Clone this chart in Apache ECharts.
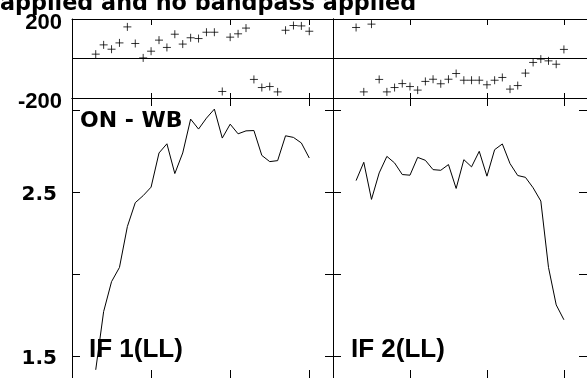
<!DOCTYPE html>
<html><head><meta charset="utf-8">
<script src="https://cdn.jsdelivr.net/npm/echarts@6/dist/echarts.min.js"></script>
<style>html,body{margin:0;padding:0;background:#fff;overflow:hidden}#c{width:587px;height:378px}</style>
</head><body><div id="c"></div>
<script>
// ---- data ----
const channels = [3,4,5,6,7,8,9,10,11,12,13,14,15,16,17,18,19,20,21,22,23,24,25,26,27,28,29,30];
const phaseIF1 = [22,69,47,79,160,76,3,37,93,56,123,73,105,101,133,133,-167,108,125,154,-106,-147,-142,-169,143,167,165,138];
const phaseIF2 = [157,-169,174,-106,-169,-147,-127,-142,-160,-116,-105,-128,-105,-76,-110,-110,-110,-133,-110,-96,-155,-137,-74,-20,-3,-12,-29,46];
const ampIF1 = [1.415,1.771,1.954,2.041,2.291,2.437,2.48,2.532,2.741,2.797,2.615,2.741,2.948,2.887,2.954,3.009,2.832,2.917,2.858,2.876,2.878,2.726,2.688,2.694,2.846,2.836,2.802,2.710];
const ampIF2 = [2.572,2.684,2.457,2.619,2.720,2.680,2.609,2.605,2.714,2.696,2.639,2.635,2.670,2.524,2.700,2.656,2.751,2.599,2.761,2.796,2.676,2.603,2.592,2.528,2.447,2.041,1.812,1.721];
const chanTicks = [10,20,30];
const phaseLabels = [-200,200];
const ampTicks = [1.5,2,2.5,3];
const ampLabels = [1.5,2.5];
const titleText = 'applied and no bandpass applied';
const panelText = ['ON - WB','IF 1(LL)','IF 2(LL)'];

// ---- chart ----
const chart = echarts.init(document.getElementById('c'), null, {renderer:'canvas'});
const black = '#000';
const PLUS = 'path://M4,0L4,8M0,4L8,4';

const grids = [
  {left:72, top:19, width:261, height:79},
  {left:333, top:19, width:261, height:79},
  {left:72, top:98, width:261, height:281.5},
  {left:333, top:98, width:261, height:281.5}
];
const xAxes = [], yAxes = [];
grids.forEach((g,i)=>{
  const tl = i<2 ? 6 : 8;
  ['top','bottom'].forEach(pos=>{
    xAxes.push({gridIndex:i, type:'value', position:pos, min:0, max:33,
      axisLine:{show:true, onZero:false, lineStyle:{color:black,width:1}},
      axisTick:{show:true, inside:true, length:(i<2 && pos==='bottom')?5:tl, customValues:chanTicks, lineStyle:{color:black}},
      axisLabel:{show:false}, splitLine:{show:false}});
  });
  ['left','right'].forEach(pos=>{
    const isPhase = i<2;
    const ax = {gridIndex:i, type:'value', position:pos,
      axisLine:{show:true, onZero:false, lineStyle:{color:black,width:1}},
      splitLine:{show:false}};
    if(isPhase){
      ax.min=-200; ax.max=200; ax.interval=200;
      ax.axisTick={show:false};
      ax.splitLine={show:pos==='left', lineStyle:{color:black,width:1}};
      ax.axisLabel = (i===0 && pos==='left') ? {show:true, margin:10, customValues:phaseLabels, formatter:v=>String(v),
        fontFamily:'Liberation Sans', fontWeight:'bold', fontSize:22, color:black, verticalAlign:'top', lineHeight:7} : {show:false};
    } else {
      ax.min=1.365; ax.max=3.077;
      ax.axisTick={show:true, inside:true, length:8, customValues:ampTicks, lineStyle:{color:black}};
      ax.axisLabel = (i===2 && pos==='left') ? {show:true, margin:15, customValues:ampLabels, formatter:v=>v.toFixed(1),
        fontFamily:'DejaVu Sans', fontWeight:'bold', fontSize:20, color:black, verticalAlign:'top', lineHeight:5} : {show:false};
    }
    yAxes.push(ax);
  });
});

const pairs = vals => channels.map((c,k)=>[c, vals[k]]);
const series = [
  {type:'scatter', xAxisIndex:1, yAxisIndex:0, data:pairs(phaseIF1), symbol:PLUS, symbolSize:8,
    itemStyle:{color:black, borderColor:black, borderWidth:1}, silent:true},
  {type:'scatter', xAxisIndex:3, yAxisIndex:2, data:pairs(phaseIF2), symbol:PLUS, symbolSize:8,
    itemStyle:{color:black, borderColor:black, borderWidth:1}, silent:true},
  {type:'line', xAxisIndex:5, yAxisIndex:4, data:pairs(ampIF1), showSymbol:false, lineStyle:{color:black,width:1}, silent:true},
  {type:'line', xAxisIndex:7, yAxisIndex:6, data:pairs(ampIF2), showSymbol:false, lineStyle:{color:black,width:1}, silent:true}
];

chart.setOption({
  animation:false,
  backgroundColor:'#fff',
  title:{text:titleText, left:0, top:-7, padding:0,
    textStyle:{fontFamily:'DejaVu Sans', fontWeight:'bold', fontSize:22.3, color:black}},
  grid:grids, xAxis:xAxes, yAxis:yAxes, series:series,
  graphic:[
    {type:'text', left:80, top:110, style:{text:panelText[0], font:'bold 22px "DejaVu Sans"', fill:black}},
    {type:'text', left:89, top:336.5, style:{text:panelText[1], font:'bold 26px "Liberation Sans"', fill:black}},
    {type:'text', left:351, top:336.5, style:{text:panelText[2], font:'bold 26px "Liberation Sans"', fill:black}}
  ]
});
</script></body></html>
